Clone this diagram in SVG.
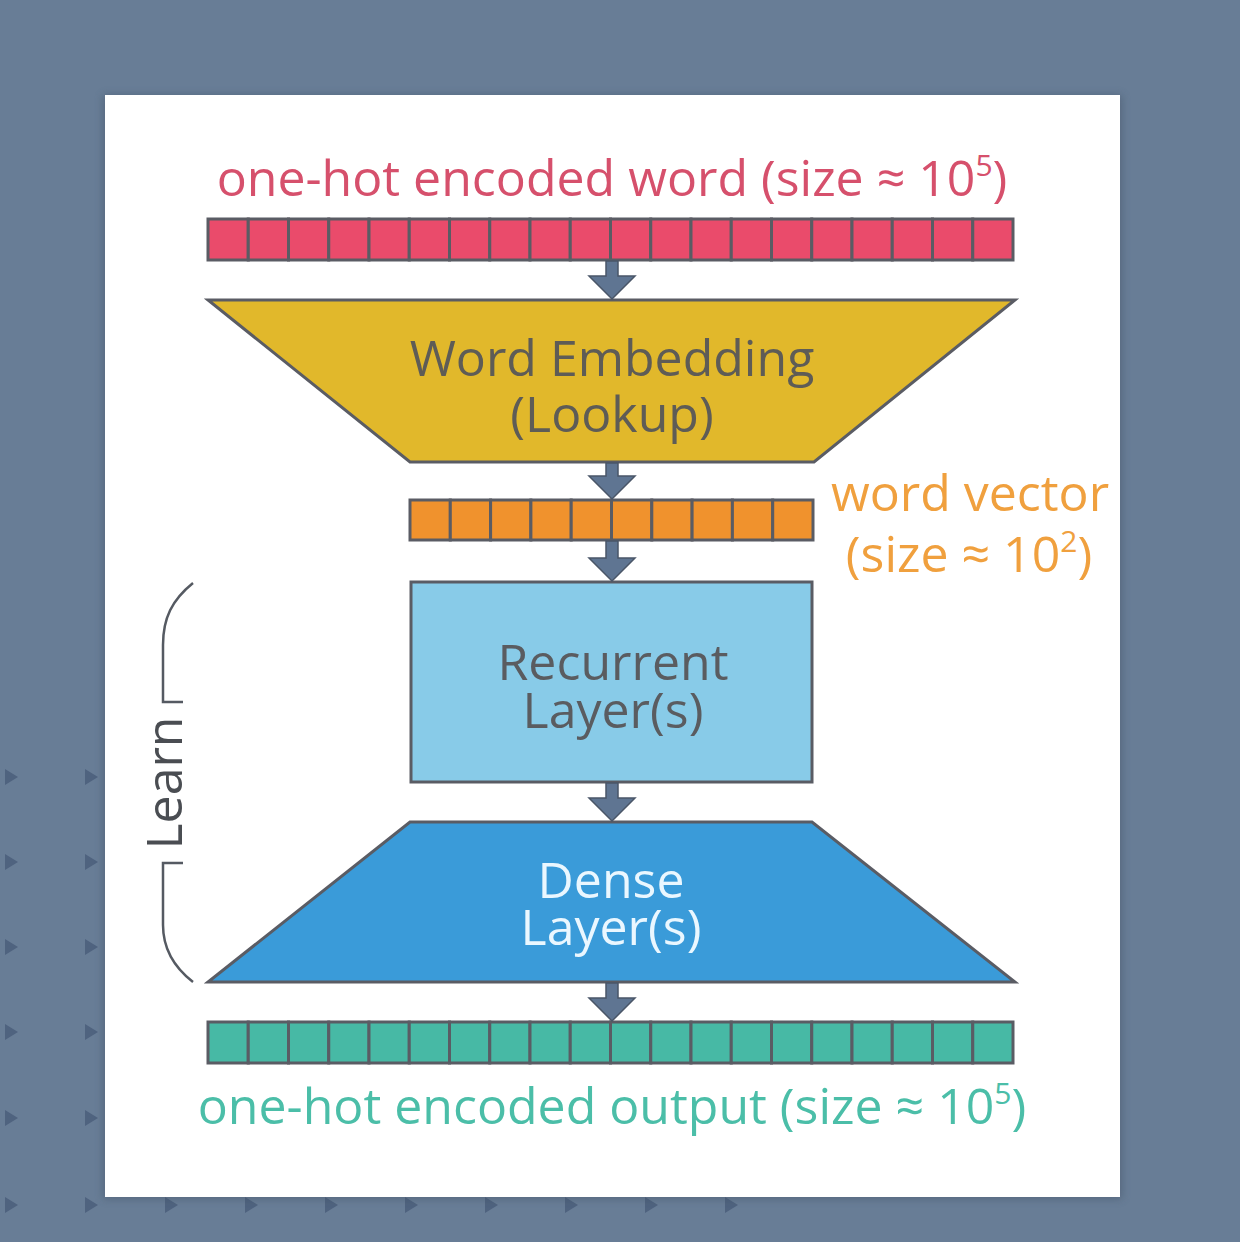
<svg xmlns="http://www.w3.org/2000/svg" width="1240" height="1242" viewBox="0 0 1240 1242">
<defs>
<style>
.t{font-family:"Open Sans","Liberation Sans",sans-serif;text-anchor:middle;font-size:50px}
.cell{stroke:#5a5c64;stroke-width:3}
.red{fill:#ea4b6b}
.org{fill:#f0922d}
.teal{fill:#47b9a5}
.shape{stroke:#5a5c64;stroke-width:3;stroke-linejoin:miter}
.arrow{fill:#5f7592;stroke:#4a5668;stroke-width:1.5}
.bg{fill:#4f637f}
.sup{font-size:30px}
</style>
<filter id="sh" x="-5%" y="-5%" width="110%" height="110%">
<feGaussianBlur stdDeviation="4"/>
</filter>
<path id="tri" d="M0,-8 L13,0 L0,8 Z"/>
</defs>
<rect x="0" y="0" width="1240" height="1242" fill="#687d96"/>
<g id="bg-triangles" class="bg">
<use href="#tri" x="5" y="777"/><use href="#tri" x="85" y="777"/>
<use href="#tri" x="5" y="862"/><use href="#tri" x="85" y="862"/>
<use href="#tri" x="5" y="947"/><use href="#tri" x="85" y="947"/>
<use href="#tri" x="5" y="1032"/><use href="#tri" x="85" y="1032"/>
<use href="#tri" x="5" y="1118"/><use href="#tri" x="85" y="1118"/>
<use href="#tri" x="5" y="1205"/><use href="#tri" x="85" y="1205"/>
<use href="#tri" x="165" y="1205"/><use href="#tri" x="245" y="1205"/>
<use href="#tri" x="325" y="1205"/><use href="#tri" x="405" y="1205"/>
<use href="#tri" x="485" y="1205"/><use href="#tri" x="565" y="1205"/>
<use href="#tri" x="645" y="1205"/><use href="#tri" x="725" y="1205"/>
</g>
<rect x="103" y="95" width="1019" height="1104" fill="#3e4d60" opacity="0.45" filter="url(#sh)"/>
<rect id="panel" x="105" y="95" width="1015" height="1102" fill="#ffffff"/>

<g id="input-label">
<text class="t" x="612" y="196" fill="#d6506c">one-hot encoded word (size ≈ 10<tspan class="sup" dy="-20">5</tspan><tspan dy="20">)</tspan></text>
</g>
<g id="input-vector" class="red">
<rect class="cell" x="208" y="219" width="40.25" height="41"/><rect class="cell" x="248.25" y="219" width="40.25" height="41"/>
<rect class="cell" x="288.5" y="219" width="40.25" height="41"/><rect class="cell" x="328.75" y="219" width="40.25" height="41"/>
<rect class="cell" x="369" y="219" width="40.25" height="41"/><rect class="cell" x="409.25" y="219" width="40.25" height="41"/>
<rect class="cell" x="449.5" y="219" width="40.25" height="41"/><rect class="cell" x="489.75" y="219" width="40.25" height="41"/>
<rect class="cell" x="530" y="219" width="40.25" height="41"/><rect class="cell" x="570.25" y="219" width="40.25" height="41"/>
<rect class="cell" x="610.5" y="219" width="40.25" height="41"/><rect class="cell" x="650.75" y="219" width="40.25" height="41"/>
<rect class="cell" x="691" y="219" width="40.25" height="41"/><rect class="cell" x="731.25" y="219" width="40.25" height="41"/>
<rect class="cell" x="771.5" y="219" width="40.25" height="41"/><rect class="cell" x="811.75" y="219" width="40.25" height="41"/>
<rect class="cell" x="852" y="219" width="40.25" height="41"/><rect class="cell" x="892.25" y="219" width="40.25" height="41"/>
<rect class="cell" x="932.5" y="219" width="40.25" height="41"/><rect class="cell" x="972.75" y="219" width="40.25" height="41"/>
</g>

<g id="word-embedding">
<polygon class="shape" points="208,300 1015,300 814,462 410,462" fill="#e1b82b"/>
<text class="t" x="612" y="376" fill="#5e5c56">Word Embedding</text>
<text class="t" x="612" y="432" fill="#5e5c56">(Lookup)</text>
</g>

<g id="word-vector" class="org">
<rect class="cell" x="410" y="500" width="40.3" height="40"/><rect class="cell" x="450.3" y="500" width="40.3" height="40"/>
<rect class="cell" x="490.6" y="500" width="40.3" height="40"/><rect class="cell" x="530.9" y="500" width="40.3" height="40"/>
<rect class="cell" x="571.2" y="500" width="40.3" height="40"/><rect class="cell" x="611.5" y="500" width="40.3" height="40"/>
<rect class="cell" x="651.8" y="500" width="40.3" height="40"/><rect class="cell" x="692.1" y="500" width="40.3" height="40"/>
<rect class="cell" x="732.4" y="500" width="40.3" height="40"/><rect class="cell" x="772.7" y="500" width="40.3" height="40"/>
</g>
<g id="word-vector-label">
<text class="t" x="970" y="511" fill="#f0a03e">word vector</text>
<text class="t" x="969" y="572" fill="#f0a03e">(size ≈ 10<tspan class="sup" dy="-20">2</tspan><tspan dy="20">)</tspan></text>
</g>

<g id="recurrent-layer">
<rect class="shape" x="411" y="582" width="401" height="200" fill="#88cbe8"/>
<text class="t" x="613" y="680" fill="#5a5c60">Recurrent</text>
<text class="t" x="613" y="728" fill="#5a5c60">Layer(s)</text>
</g>

<g id="dense-layer">
<polygon class="shape" points="410,822 812,822 1015,982 208,982" fill="#3a9bd9"/>
<text class="t" x="611" y="898" fill="#eaf7ff">Dense</text>
<text class="t" x="611" y="945" fill="#eaf7ff">Layer(s)</text>
</g>

<g id="output-vector" class="teal">
<rect class="cell" x="208" y="1022" width="40.25" height="41"/><rect class="cell" x="248.25" y="1022" width="40.25" height="41"/>
<rect class="cell" x="288.5" y="1022" width="40.25" height="41"/><rect class="cell" x="328.75" y="1022" width="40.25" height="41"/>
<rect class="cell" x="369" y="1022" width="40.25" height="41"/><rect class="cell" x="409.25" y="1022" width="40.25" height="41"/>
<rect class="cell" x="449.5" y="1022" width="40.25" height="41"/><rect class="cell" x="489.75" y="1022" width="40.25" height="41"/>
<rect class="cell" x="530" y="1022" width="40.25" height="41"/><rect class="cell" x="570.25" y="1022" width="40.25" height="41"/>
<rect class="cell" x="610.5" y="1022" width="40.25" height="41"/><rect class="cell" x="650.75" y="1022" width="40.25" height="41"/>
<rect class="cell" x="691" y="1022" width="40.25" height="41"/><rect class="cell" x="731.25" y="1022" width="40.25" height="41"/>
<rect class="cell" x="771.5" y="1022" width="40.25" height="41"/><rect class="cell" x="811.75" y="1022" width="40.25" height="41"/>
<rect class="cell" x="852" y="1022" width="40.25" height="41"/><rect class="cell" x="892.25" y="1022" width="40.25" height="41"/>
<rect class="cell" x="932.5" y="1022" width="40.25" height="41"/><rect class="cell" x="972.75" y="1022" width="40.25" height="41"/>
</g>
<g id="output-label">
<text class="t" x="612" y="1124" fill="#4bbea8">one-hot encoded output (size ≈ 10<tspan class="sup" dy="-20">5</tspan><tspan dy="20">)</tspan></text>
</g>

<g id="learn-bracket">
<path d="M193,583 C172,600 163,618 163,645 L163,702 L183,702 M183,863 L163,863 L163,925 C163,950 175,968 193,982" fill="none" stroke="#555a62" stroke-width="2.5"/>
<text class="t" transform="translate(182,783) rotate(-90)" fill="#4a4d52">Learn</text>
</g>

<g id="connectors">
<path class="arrow" d="M606,261 H618 V276 H635 L612,299 L589,276 H606 Z"/>
<path class="arrow" d="M606,463 H618 V476 H635 L612,499 L589,476 H606 Z"/>
<path class="arrow" d="M606,541 H618 V558 H635 L612,581 L589,558 H606 Z"/>
<path class="arrow" d="M606,783 H618 V798 H635 L612,821 L589,798 H606 Z"/>
<path class="arrow" d="M606,983 H618 V998 H635 L612,1021 L589,998 H606 Z"/>
</g>
</svg>
